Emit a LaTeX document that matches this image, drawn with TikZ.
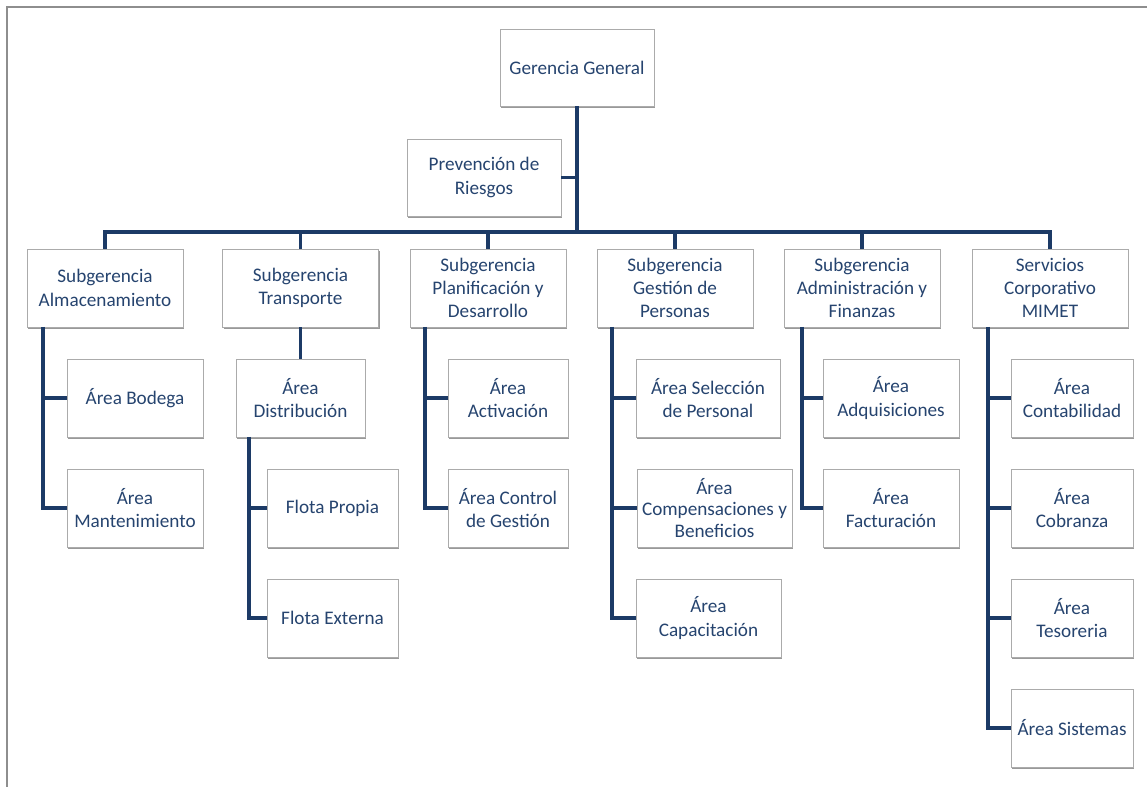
\documentclass[tikz,border=0pt]{standalone}
\usepackage{fontspec}
\setmainfont{Carlito}
\usetikzlibrary{shadows}
\definecolor{txtblue}{HTML}{26446F}
\definecolor{linenavy}{HTML}{1C3A66}
\definecolor{boxgray}{HTML}{ABABAB}
\definecolor{framegray}{HTML}{8E8E8E}
\begin{document}
\begin{tikzpicture}[x=0.75pt,y=-0.75pt,
  unit/.style={draw=boxgray, line width=0.7pt, fill=white, align=center,
    text=txtblue, font=\fontsize{14.4}{17.4}\selectfont, inner sep=0pt,
    drop shadow={shadow xshift=1.1pt, shadow yshift=-1.5pt, fill=black, opacity=0.4}},
  sz/.style args={#1/#2}{minimum width=#1*0.75pt, minimum height=#2*0.75pt},
  link/.style={draw=linenavy, line width=2.7pt, line join=miter}]
\useasboundingbox (0,0) rectangle (1147,787);
% outer frame (top and left edges)
\draw[framegray, line width=1.5pt] (7,787) -- (7,7) -- (1147,7);

% top management
\node[unit, sz=154/77] (gg) at (577,67.5) {Gerencia General};
\node[unit, sz=154/77] (prev) at (484,177.5) {Prevención de\\Riesgos};

% sub-managements
\node[unit, sz=156/78] (s1) at (105,288) {Subgerencia\\Almacenamiento};
\node[unit, sz=156/78] (s2) at (300.5,288) {Subgerencia\\Transporte};
\node[unit, sz=156/78] (s3) at (488,288) {Subgerencia\\Planificación y\\Desarrollo};
\node[unit, sz=156/78] (s4) at (675,288) {Subgerencia\\Gestión de\\Personas};
\node[unit, sz=156/78] (s5) at (862,288) {Subgerencia\\Administración y\\Finanzas};
\node[unit, sz=156/78] (s6) at (1050,288) {Servicios\\Corporativo\\MIMET};

% areas
\node[unit, sz=136/78] (a11) at (135,398) {Área Bodega};
\node[unit, sz=136/78] (a12) at (135,508) {Área\\Mantenimiento};
\node[unit, sz=129/78] (a21) at (300.5,398) {Área\\Distribución};
\node[unit, sz=131/78] (a22) at (332.5,508) {Flota Propia};
\node[unit, sz=131/78] (a23) at (332.5,618) {Flota Externa};
\node[unit, sz=120/78] (a31) at (508,398) {Área\\Activación};
\node[unit, sz=120/78] (a32) at (508,508) {Área Control\\de Gestión};
\node[unit, sz=144/78] (a41) at (708,398) {Área Selección\\de Personal};
\node[unit, sz=155/78, font=\fontsize{14.4}{16}\selectfont] (a42) at (714.5,508) {Área\\Compensaciones y\\Beneficios};
\node[unit, sz=145/78] (a43) at (708.5,618) {Área\\Capacitación};
\node[unit, sz=136/78] (a51) at (891,398) {Área\\Adquisiciones};
\node[unit, sz=136/78] (a52) at (891,508) {Área\\Facturación};
\node[unit, sz=122/78] (a61) at (1072,398) {Área\\Contabilidad};
\node[unit, sz=122/78] (a62) at (1072,508) {Área\\Cobranza};
\node[unit, sz=122/78] (a63) at (1072,618) {Área\\Tesoreria};
\node[unit, sz=122/78] (a64) at (1072,728) {Área Sistemas};

% main trunk and bus
\coordinate (bus) at (577,232);
\draw[link] (gg.south) -- (bus);
\draw[link] (prev.east) -- (prev.east -| bus);
\draw[link] (s1.north) -- (s1.north |- bus) -- (s6.north |- bus) -- (s6.north);
\foreach \s in {s2,s3,s4,s5} \draw[link] (\s.north) -- (\s.north |- bus);

% spines under each sub-management
\coordinate (sp1) at (43,327);
\coordinate (sp2) at (249,437);
\coordinate (sp3) at (425,327);
\coordinate (sp4) at (612,327);
\coordinate (sp5) at (802,327);
\coordinate (sp6) at (988,327);

\draw[link] (sp1) |- (a12.west);
\draw[link] (sp1 |- a11.west) -- (a11.west);

\draw[link] (s2.south) -- (a21.north);
\draw[link] (sp2) |- (a23.west);
\draw[link] (sp2 |- a22.west) -- (a22.west);

\draw[link] (sp3) |- (a32.west);
\draw[link] (sp3 |- a31.west) -- (a31.west);

\draw[link] (sp4) |- (a43.west);
\draw[link] (sp4 |- a41.west) -- (a41.west);
\draw[link] (sp4 |- a42.west) -- (a42.west);

\draw[link] (sp5) |- (a52.west);
\draw[link] (sp5 |- a51.west) -- (a51.west);

\draw[link] (sp6) |- (a64.west);
\foreach \a in {a61,a62,a63} \draw[link] (sp6 |- \a.west) -- (\a.west);
\end{tikzpicture}
\end{document}
